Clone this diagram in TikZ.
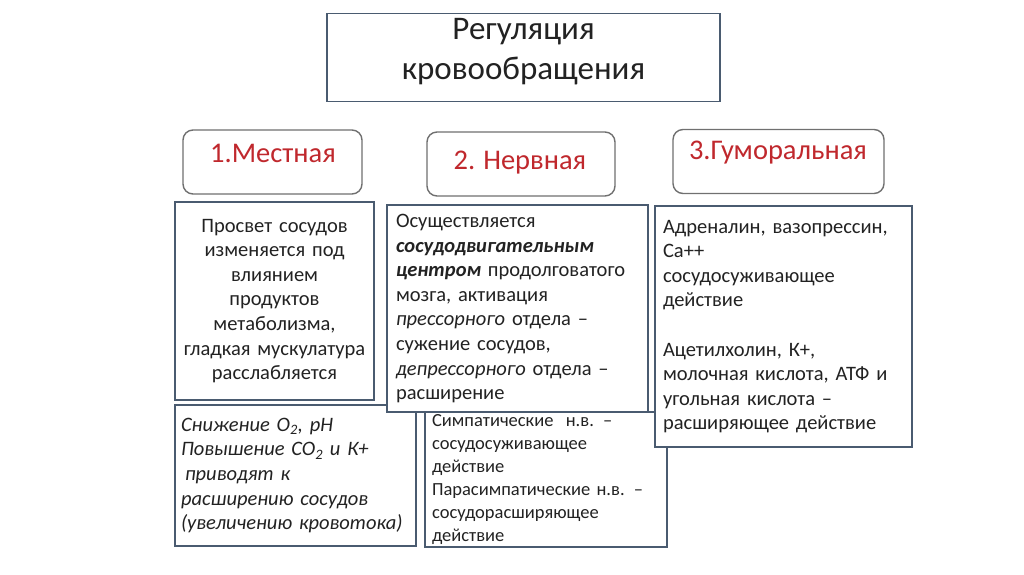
\documentclass[tikz,border=0pt]{standalone}
\usepackage{fontspec}
\setmainfont{Carlito}[WordSpace=0.9]
\usetikzlibrary{positioning}
\definecolor{frame}{HTML}{4A5B70}
\definecolor{greyframe}{HTML}{707070}
\definecolor{redtext}{HTML}{C0282D}
\definecolor{ink}{HTML}{222222}
\tikzset{
  titlebox/.style ={draw=frame, line width=1.6pt, fill=white, minimum width=393pt, minimum height=88pt},
  titlelbl/.style ={align=center, text=ink, inner sep=0pt, font=\fontsize{33}{40}\selectfont},
  headbox/.style  ={draw=greyframe, line width=1.4pt, rounded corners=10pt, fill=white, minimum height=64pt},
  headlbl/.style  ={text=redtext, font=\fontsize{28.5}{32}\selectfont, inner sep=0pt},
  textbox/.style  ={draw=frame, line width=1.4pt, fill=white, text=ink, inner ysep=0pt},
  bodyfont/.style ={font=\fontsize{20.5}{24.6}\selectfont},
  smallfont/.style={font=\fontsize{18.5}{23}\selectfont},
}

\begin{document}
\begin{tikzpicture}[x=1pt, y=-1pt]
\useasboundingbox[fill=white] (0,0) rectangle (1024,574);
% ---- title
\node[titlebox] (title) at (523.5,57.5) {};
\node[titlelbl] (titletext) at (523.5,52) {Регуляция\\кровообращения};

% ---- three kinds of regulation
\node[headbox, minimum width=179pt] (local) at (272.5,162) {};
\node[headlbl] (locallbl) at (273,153) {1.Местная};
\node[headbox, minimum width=188pt] (nerv) at (521,164) {};
\node[headlbl] (nervlbl) at (520,163) {2. Нервная};
\node[headbox, minimum width=211pt] (humor) at (778.5,161.5) {};
\node[headlbl] (humorlbl) at (778,153) {3.Гуморальная};

% ---- column 1
\node[textbox, bodyfont, minimum width=199pt, minimum height=198pt, inner xsep=5pt, text width=189pt, align=center]
  (lumen) at (274.5,301) {Просвет сосудов\\изменяется под\\влиянием\\продуктов\\метаболизма,\\гладкая мускулатура\\расслабляется};
\node[textbox, bodyfont, minimum width=241pt, minimum height=141pt, inner xsep=6pt, text width=229pt, align=left]
  (metab) at (295.5,475.5) {\itshape Снижение O\textsubscript{2}, pH\\Повышение CO\textsubscript{2} и К+\\\hspace*{4pt}приводят к\\расширению сосудов\\(увеличению кровотока)};

% ---- column 2
\node[textbox, smallfont, minimum width=242pt, minimum height=135pt, inner xsep=7pt, text width=228pt, align=left]
  (autonom) at (546,479.5) {Симпатические \ н.в. --\\сосудосуживающее\\действие\\Парасимпатические н.в. --\\сосудорасширяющее\\действие};
\node[textbox, bodyfont, minimum width=261pt, minimum height=207pt, inner xsep=9pt, text width=243pt, align=left]
  (center) at (517.5,308.5) {Осуществляется\\\textbf{\textit{сосудодвигательным}}\\\textbf{\textit{центром}} продолговатого\\мозга, активация\\\textit{прессорного} отдела --\\сужение сосудов,\\\textit{депрессорного} отдела --\\расширение};

% ---- column 3
\node[textbox, bodyfont, minimum width=257pt, minimum height=241pt, inner xsep=8pt, text width=241pt, align=left]
  (hormones) at (783.5,326.5) {Адреналин, вазопрессин,\\Ca++\\сосудосуживающее\\действие\\[24.6pt]Ацетилхолин, К+,\\молочная кислота, АТФ и\\угольная кислота --\\расширяющее действие};
\end{tikzpicture}
\end{document}
